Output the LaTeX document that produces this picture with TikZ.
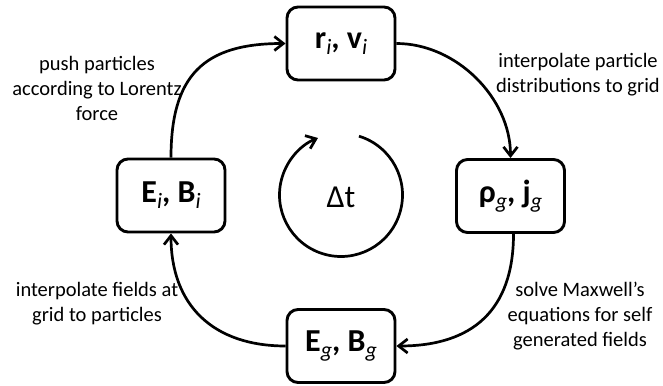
\documentclass[tikz,border=0pt]{standalone}
\usepackage{fontspec}
\setmainfont{Carlito}
\usetikzlibrary{arrows.meta,calc}
\newcommand\subx[1]{\raisebox{-6pt}{\fontsize{22}{22}\selectfont\mdseries\itshape #1}}
\begin{document}
\begin{tikzpicture}[x=1pt,y=1pt,
  box/.style={draw, line width=2.9pt, rounded corners=11pt, minimum width=108pt, minimum height=73pt, inner sep=0pt, font=\fontsize{32}{32}\selectfont\bfseries},
  lbl/.style={align=center, inner sep=0pt, font=\fontsize{20.5}{25}\selectfont},
  conn/.style={line width=2.7pt, -{Straight Barb[length=9pt,width=14pt,line width=2.7pt]}}]
\useasboundingbox (0,0) rectangle (663,385);
\node[box] (rv) at (341,341.5) {r\subx{i}, v\subx{i}};
\node[box] (EB) at (171,189.5) {E\subx{i}, B\subx{i}};
\node[box] (rj) at (510.5,189) {ρ\subx{g}, j\subx{g}};
\node[box] (Eg) at (341,39) {E\subx{g}, B\subx{g}};
\draw[conn] (EB.north) to[out=90,in=180,looseness=1.3] (rv.west);
\draw[conn] (rv.east) to[out=0,in=90,looseness=0.95] (rj.north);
\draw[conn] ([xshift=3pt]rj.south) to[out=-90,in=0,looseness=1.2] (Eg.east);
\draw[conn] (Eg.west) to[out=180,in=-90,looseness=1.15] (EB.south);
\coordinate (cc) at (341,190);
\draw[conn] ($(cc)+(73:61.5)$) arc[start angle=73, end angle=-248, radius=61.5];
\node[font=\fontsize{32}{32}\selectfont] (dt) at (341,188) {Δt};
\node[lbl] (l1) at (97,297) {push particles\\according to Lorentz\\force};
\node[lbl] (l2) at (578,310) {interpolate particle\\distributions to grid};
\node[lbl] (l3) at (97,81.5) {interpolate fields at\\grid to particles};
\node[lbl] (l4) at (580,69) {solve Maxwell’s\\equations for self\\generated fields};
\end{tikzpicture}
\end{document}
